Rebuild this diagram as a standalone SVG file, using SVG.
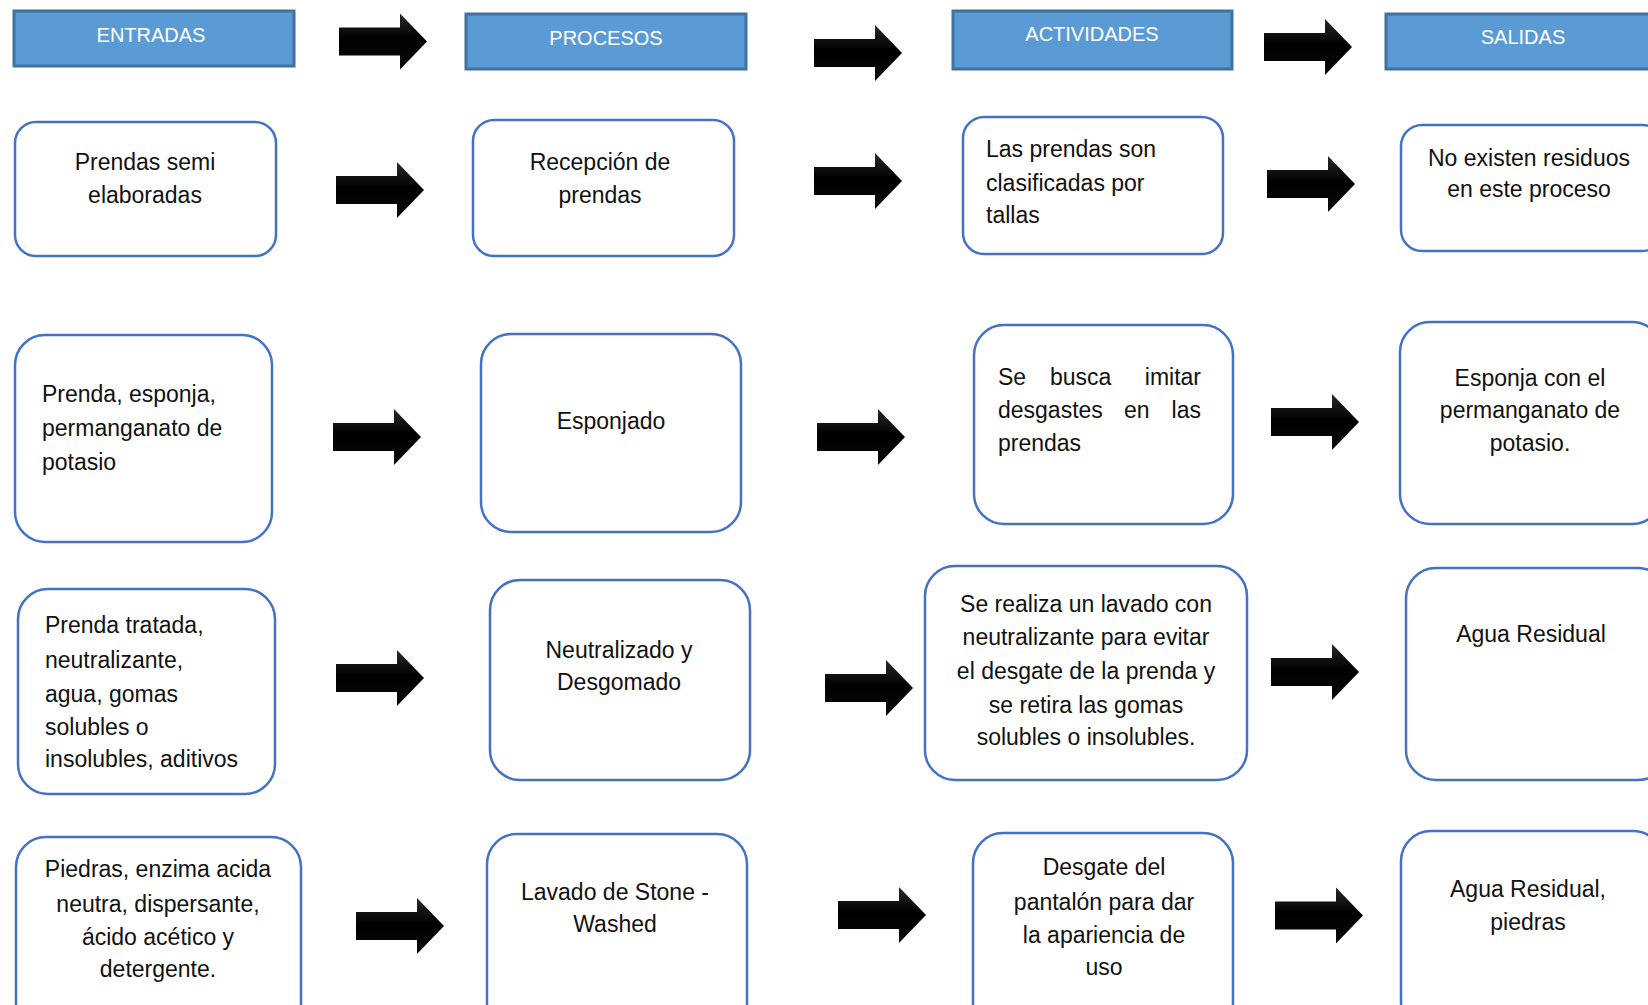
<svg xmlns="http://www.w3.org/2000/svg" xmlns:xlink="http://www.w3.org/1999/xlink" width="1648" height="1005" viewBox="0 0 1648 1005">
<style>
.hdr{fill:#5B9BD5;stroke:#41719C;stroke-width:3}
.ht{font-family:"Liberation Sans",Arial,sans-serif;font-size:20px;fill:#fff;text-anchor:middle}
.box{fill:#fff;stroke:#4472C4;stroke-width:2.5}
.t{font-family:"Liberation Sans",Arial,sans-serif;font-size:23px;fill:#111}
.c{text-anchor:middle}
.e{text-anchor:end}
</style>
<defs>
<linearGradient id="ag" x1="0" y1="0" x2="0" y2="1">
<stop offset="0" stop-color="#2a2a2a"/>
<stop offset="0.45" stop-color="#000"/>
<stop offset="1" stop-color="#0a0a0a"/>
</linearGradient>
<path id="arr" d="M0,-14 H61 V-28 L88,0 L61,28 V14 H0 Z" fill="url(#ag)"/>
</defs>
<rect width="1648" height="1005" fill="#fff"/>

<g id="h-entradas"><rect class="hdr" x="14" y="11" width="280" height="55"/><text class="ht" x="151" y="42">ENTRADAS</text></g>
<g id="h-procesos"><rect class="hdr" x="466" y="14" width="280" height="55"/><text class="ht" x="606" y="45">PROCESOS</text></g>
<g id="h-actividades"><rect class="hdr" x="953" y="11" width="279" height="58"/><text class="ht" x="1092" y="41">ACTIVIDADES</text></g>
<g id="h-salidas"><rect class="hdr" x="1386" y="14" width="280" height="55"/><text class="ht" x="1523" y="44">SALIDAS</text></g>

<g id="e1"><rect class="box" x="15" y="122" width="261" height="134" rx="21"/>
<text class="t c" x="145" y="170">Prendas semi</text><text class="t c" x="145" y="203">elaboradas</text></g>
<g id="p1"><rect class="box" x="473" y="120" width="261" height="136" rx="21"/>
<text class="t c" x="600" y="170">Recepción de</text><text class="t c" x="600" y="203">prendas</text></g>
<g id="a1"><rect class="box" x="963" y="117" width="260" height="137" rx="21"/>
<text class="t" x="986" y="157">Las prendas son</text><text class="t" x="986" y="191">clasificadas por</text><text class="t" x="986" y="223">tallas</text></g>
<g id="s1"><rect class="box" x="1401" y="125" width="262" height="126" rx="21"/>
<text class="t c" x="1529" y="166">No existen residuos</text><text class="t c" x="1529" y="197">en este proceso</text></g>

<g id="e2"><rect class="box" x="15" y="335" width="257" height="207" rx="30"/>
<text class="t" x="42" y="402">Prenda, esponja,</text><text class="t" x="42" y="436">permanganato de</text><text class="t" x="42" y="470">potasio</text></g>
<g id="p2"><rect class="box" x="481" y="334" width="260" height="198" rx="30"/>
<text class="t c" x="611" y="429">Esponjado</text></g>
<g id="a2"><rect class="box" x="974" y="325" width="259" height="199" rx="30"/>
<text class="t" x="998" y="385">Se</text><text class="t" x="1050" y="385">busca</text><text class="t e" x="1201" y="385">imitar</text>
<text class="t" x="998" y="418">desgastes</text><text class="t" x="1124" y="418">en</text><text class="t e" x="1201" y="418">las</text>
<text class="t" x="998" y="451">prendas</text></g>
<g id="s2"><rect class="box" x="1400" y="322" width="262" height="202" rx="30"/>
<text class="t c" x="1530" y="386">Esponja con el</text><text class="t c" x="1530" y="418">permanganato de</text><text class="t c" x="1530" y="451">potasio.</text></g>

<g id="e3"><rect class="box" x="18" y="589" width="257" height="205" rx="30"/>
<text class="t" x="45" y="633">Prenda tratada,</text><text class="t" x="45" y="668">neutralizante,</text><text class="t" x="45" y="702">agua, gomas</text><text class="t" x="45" y="735">solubles o</text><text class="t" x="45" y="767">insolubles, aditivos</text></g>
<g id="p3"><rect class="box" x="490" y="580" width="260" height="200" rx="30"/>
<text class="t c" x="619" y="658">Neutralizado y</text><text class="t c" x="619" y="690">Desgomado</text></g>
<g id="a3"><rect class="box" x="925" y="566" width="322" height="214" rx="30"/>
<text class="t c" x="1086" y="612">Se realiza un lavado con</text><text class="t c" x="1086" y="645">neutralizante para evitar</text><text class="t c" x="1086" y="679">el desgate de la prenda y</text><text class="t c" x="1086" y="713">se retira las gomas</text><text class="t c" x="1086" y="745">solubles o insolubles.</text></g>
<g id="s3"><rect class="box" x="1406" y="568" width="262" height="212" rx="30"/>
<text class="t c" x="1531" y="642">Agua Residual</text></g>

<g id="e4"><rect class="box" x="16" y="837" width="285" height="200" rx="30"/>
<text class="t c" x="158" y="877">Piedras, enzima acida</text><text class="t c" x="158" y="912">neutra, dispersante,</text><text class="t c" x="158" y="945">ácido acético y</text><text class="t c" x="158" y="977">detergente.</text></g>
<g id="p4"><rect class="box" x="487" y="834" width="260" height="200" rx="30"/>
<text class="t c" x="615" y="900">Lavado de Stone -</text><text class="t c" x="615" y="932">Washed</text></g>
<g id="a4"><rect class="box" x="973" y="833" width="260" height="200" rx="30"/>
<text class="t c" x="1104" y="875">Desgate del</text><text class="t c" x="1104" y="910">pantalón para dar</text><text class="t c" x="1104" y="943">la apariencia de</text><text class="t c" x="1104" y="975">uso</text></g>
<g id="s4"><rect class="box" x="1401" y="831" width="262" height="200" rx="30"/>
<text class="t c" x="1528" y="897">Agua Residual,</text><text class="t c" x="1528" y="930">piedras</text></g>

<g id="connectors">
<use xlink:href="#arr" href="#arr" transform="translate(339,41.5)"/>
<use xlink:href="#arr" href="#arr" transform="translate(814,53)"/>
<use xlink:href="#arr" href="#arr" transform="translate(1264,47)"/>
<use xlink:href="#arr" href="#arr" transform="translate(336,190)"/>
<use xlink:href="#arr" href="#arr" transform="translate(814,181)"/>
<use xlink:href="#arr" href="#arr" transform="translate(1267,184)"/>
<use xlink:href="#arr" href="#arr" transform="translate(333,437)"/>
<use xlink:href="#arr" href="#arr" transform="translate(817,437)"/>
<use xlink:href="#arr" href="#arr" transform="translate(1271,422)"/>
<use xlink:href="#arr" href="#arr" transform="translate(336,678)"/>
<use xlink:href="#arr" href="#arr" transform="translate(825,688)"/>
<use xlink:href="#arr" href="#arr" transform="translate(1271,672)"/>
<use xlink:href="#arr" href="#arr" transform="translate(356,926)"/>
<use xlink:href="#arr" href="#arr" transform="translate(838,915)"/>
<use xlink:href="#arr" href="#arr" transform="translate(1275,915.5)"/>
</g>
</svg>
